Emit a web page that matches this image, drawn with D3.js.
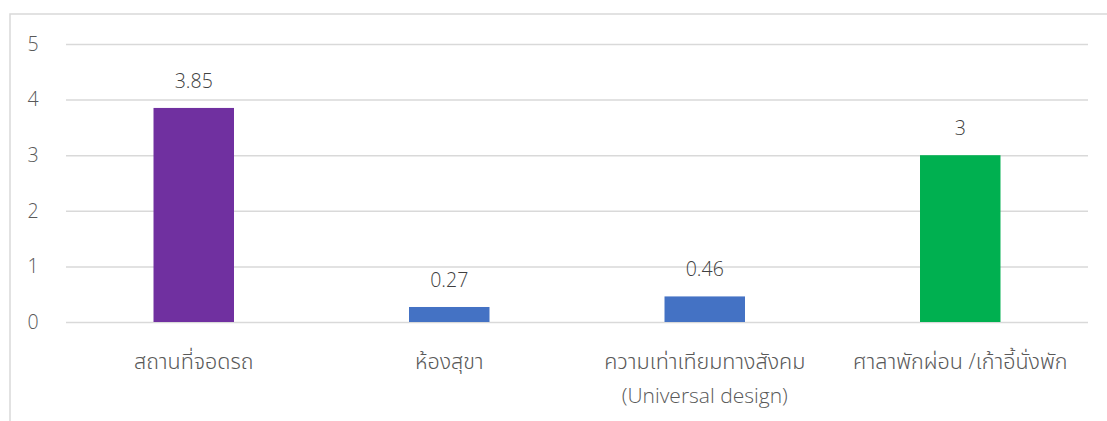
<!DOCTYPE html>
<html><head><meta charset="utf-8">
<script src="https://cdn.jsdelivr.net/npm/d3@7"></script>
<style>
html,body{margin:0;padding:0;background:#fff;}
svg{display:block;}
text{font-family:"Open Sans","Noto Sans Thai","Noto Sans",sans-serif;font-weight:300;}
</style></head>
<body>
<svg id="chart" width="1107" height="421"></svg>
<script>
const categories = [["สถานที่จอดรถ"], ["ห้องสุขา"], ["ความเท่าเทียมทางสังคม", "(Universal design)"], ["ศาลาพักผ่อน /เก้าอี้นั่งพัก"]];
const values = [3.85, 0.27, 0.46, 3];
const valueLabels = ["3.85", "0.27", "0.46", "3"];
const colors = ["#7030A0", "#4472C4", "#4472C4", "#00B050"];
const yTicks = [0, 1, 2, 3, 4, 5];

const svg = d3.select("#chart");
const plotLeft = 66, plotRight = 1088, plotTop = 44, plotBottom = 322;

// chart area border (extends beyond view at right/bottom)
svg.append("rect").attr("x", 10).attr("y", 14).attr("width", 1200).attr("height", 500)
  .attr("fill", "none").attr("stroke", "#d9d9d9").attr("stroke-width", 1.5);

const x = d3.scaleBand().domain(d3.range(categories.length)).range([plotLeft, plotRight]).paddingInner(0.685).paddingOuter(0.3425);
const y = d3.scaleLinear().domain([0, 5]).range([plotBottom, plotTop]);

const yAxis = d3.axisLeft(y).tickValues(yTicks).tickFormat(d3.format("d")).tickSize(-(plotRight - plotLeft)).tickPadding(28);
const gy = svg.append("g").attr("transform", `translate(${plotLeft},0)`).call(yAxis);
gy.select(".domain").remove();
gy.selectAll(".tick line").attr("stroke", "#d9d9d9").attr("stroke-width", 1.5);
gy.selectAll(".tick text").attr("fill", "#595959").attr("font-size", 19.5).attr("text-anchor", "middle")
  .attr("font-family", "'Open Sans', sans-serif")
  .attr("x", -33);

svg.append("g").selectAll("rect").data(values).join("rect")
  .attr("x", (d, i) => x(i)).attr("width", x.bandwidth())
  .attr("y", d => y(d)).attr("height", d => y(0) - y(d))
  .attr("fill", (d, i) => colors[i]);

svg.append("g").selectAll("text").data(values).join("text")
  .attr("x", (d, i) => x(i) + x.bandwidth() / 2)
  .attr("y", d => y(d) - 20)
  .attr("text-anchor", "middle").attr("font-size", 19.5).attr("fill", "#404040")
  .text((d, i) => valueLabels[i]);

const cl = svg.append("g").selectAll("text").data(categories).join("text")
  .attr("x", (d, i) => x(i) + x.bandwidth() / 2)
  .attr("y", 369)
  .attr("text-anchor", "middle").attr("fill", "#595959");
cl.each(function(d, i) {
  const t = d3.select(this);
  d.forEach((line, j) => {
    t.append("tspan").attr("x", x(i) + x.bandwidth() / 2).attr("dy", j === 0 ? 0 : 34)
      .attr("font-size", j === 0 ? 21.5 : 21).text(line);
  });
});
</script>
</body></html>
